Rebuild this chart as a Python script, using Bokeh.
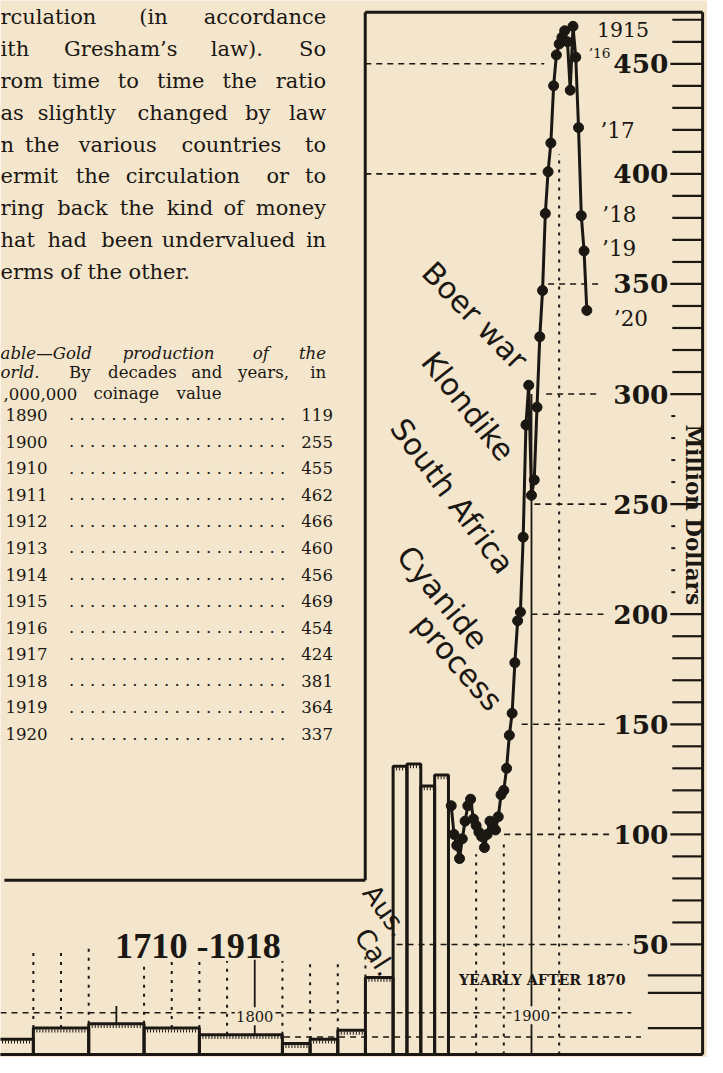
import math
from bokeh.plotting import figure
from bokeh.models import Range1d
from bokeh.core.properties import value
from bokeh.embed import file_html
from bokeh.resources import INLINE

# ---------------- data ----------------
# average yearly production by period, million dollars (step bars)
period_start = [1700, 1720, 1740, 1760, 1780, 1810, 1820, 1830, 1840, 1850, 1855, 1860, 1865]
period_end = [1720, 1740, 1760, 1780, 1810, 1820, 1830, 1840, 1850, 1855, 1860, 1865, 1870]
period_value = [7, 12, 14, 12, 9, 5, 7, 11, 35, 131, 132, 122, 127]

# yearly production after 1870, million dollars
years = list(range(1871, 1921))
yearly_value = [113, 100, 95, 89, 98, 106, 113, 116, 107, 104,
                101, 99, 94, 100, 106, 104, 102, 108, 118, 120,
                130, 145, 155, 178, 197, 201, 235, 286, 304, 254,
                261, 294, 326, 347, 382, 401, 414, 440, 454, 459,
                462, 465, 460, 438, 467, 453, 421, 381, 365, 338]

# table printed beside the chart
table_years = [1890, 1900, 1910, 1911, 1912, 1913, 1914, 1915, 1916, 1917, 1918, 1919, 1920]
table_values = [119, 255, 455, 462, 466, 460, 456, 469, 454, 424, 381, 364, 337]

# right-hand scale
axis_label_values = [50, 100, 150, 200, 250, 300, 350, 400, 450]
axis_minor_values = [60, 70, 80, 90, 110, 120, 130, 140, 160, 170, 180, 190,
                     310, 320, 330, 340, 360, 370, 380, 390, 410, 420, 430, 440, 460, 470]
axis_hidden_values = [210, 220, 230, 240, 260, 270, 280, 290]
axis_low_values = [12, 28, 36]

point_label_years = [1915, 1916, 1917, 1918, 1919, 1920]
point_label_texts = ["1915", "\u201916", "\u201917", "\u201918", "\u201919", "\u201920"]

event_texts = ["Boer war", "Klondike", "South Africa", "Cyanide", "process", "Aus.", "Cal."]

paragraph_lines = [
    ["rculation", "(in", "accordance"],
    ["ith", "Gresham\u2019s", "law).", "So"],
    ["rom", "time", "to", "time", "the", "ratio"],
    ["as", "slightly", "changed", "by", "law"],
    ["n", "the", "various", "countries", "to"],
    ["ermit", "the", "circulation", "or", "to"],
    ["ring", "back", "the", "kind", "of", "money"],
    ["hat", "had", "been", "undervalued", "in"],
]
paragraph_last = "erms of the other."

# ---------------- layout / style ----------------
PAPER = "#f3e6cc"
INK = "#1b1713"
SERIF = "DejaVu Serif"
SANS = "DejaVu Sans"
W, H = 707, 1057
REF_W, REF_H = 723, 1073
S = W / REF_W


def X(px):
    return 1800 + (px - 260) / 2.83


def V(py):
    return (1070 - py) / 2.235


def fs(px):
    return "%.1fpx" % (px * S)


p = figure(width=W, height=H, x_range=Range1d(X(0), X(REF_W)), y_range=Range1d(V(REF_H), V(0)),
           output_backend="svg", toolbar_location=None, min_border=0,
           x_axis_type=None, y_axis_type=None)
p.outline_line_color = None
p.background_fill_color = PAPER
p.border_fill_color = PAPER


def txt(px, py, s, size, font=SERIF, style="normal", align="left", baseline="alphabetic", angle=0.0):
    p.text(x=[X(px)], y=[V(py)], text=[s], text_font=value(font), text_font_size=fs(size),
           text_font_style=style, text_align=align, text_baseline=baseline, angle=angle,
           text_color=INK)


# ---------- book text (upper left) ----------
para_x = [
    [0, 142, None], [0, 65, 215, None], [0, 53, 120, 160, 227, None], [0, 38, 140, 250, None],
    [0, 25, 80, 185, None], [0, 77, 128, 272, None], [0, 58, 122, 170, 228, None], [0, 48, 103, 165, None],
]
for i, words in enumerate(paragraph_lines):
    base = 17 + i * 32.3
    for w, xpos in zip(words, para_x[i]):
        if xpos is None:
            txt(333, base, w, 21.5, align="right")
        else:
            txt(xpos, base, w, 21.5)
txt(0, 17 + 8 * 32.3, paragraph_last, 21.5)

# table caption
cap1 = [("able\u2014Gold", 0), ("production", 125), ("of", 258)]
for w, xpos in cap1:
    txt(xpos, 358, w, 17, style="italic")
txt(333, 358, "the", 17, style="italic", align="right")
txt(0, 378, "orld.", 17, style="italic")
for w, xpos in [("By", 70), ("decades", 110), ("and", 195), ("years,", 243)]:
    txt(xpos, 378, w, 17)
txt(333, 378, "in", 17, align="right")
for w, xpos in [(",000,000", 3), ("coinage", 95), ("value", 180)]:
    txt(xpos, 399, w, 17)

leader = " ".join(["."] * 21)
for i, (yr, val) in enumerate(zip(table_years, table_values)):
    base = 420.7 + i * 27.0
    txt(5, base, str(yr), 17)
    txt(70, base, leader, 17)
    txt(340, base, str(val), 17, align="right")

# ---------- frame ----------
p.segment(x0=[X(373), X(718), X(373), X(4), X(0)],
          y0=[V(12), V(12), V(12), V(893), 0],
          x1=[X(718), X(718), X(373), X(373), X(718)],
          y1=[V(12), V(1070), V(893), V(893), 0],
          line_color=INK, line_width=3)

# ---------- grid: dashed horizontals ----------
grid_span = {450: (373, 556), 400: (373, 553), 350: (560, 612), 300: (558, 614), 250: (546, 620),
             200: (543, 620), 150: (533, 620), 100: (515, 625), 50: (405, 643)}
gx0 = [X(grid_span[v][0]) for v in axis_label_values]
gx1 = [X(grid_span[v][1]) for v in axis_label_values]
p.segment(x0=gx0, x1=gx1, y0=axis_label_values, y1=axis_label_values,
          line_color=INK, line_width=1.6, line_dash="6 5")
p.segment(x0=[X(0), X(290)], x1=[X(645), X(655)], y0=[19, 8], y1=[19, 8],
          line_color=INK, line_width=1.6, line_dash="6 5")


def bar_top_at(yr):
    return max(v for s0, s1, v in zip(period_start, period_end, period_value) if s0 <= yr <= s1)


# dotted decade verticals
high = [1720, 1730, 1740, 1840]
low = [1760, 1770, 1780, 1790, 1810, 1820, 1830]
dx = high + low + [1880, 1890, 1910]
dy0 = [bar_top_at(d) for d in high + low] + [0, 0, 0]
dy1 = [48] * len(high) + [42.5] * len(low) + [91, 98, 409]
p.segment(x0=dx, x1=dx, y0=dy0, y1=dy1, line_color=INK, line_width=2, line_dash="3 6")
# solid half-century / century marks
p.segment(x0=[1750, 1800, 1900], x1=[1750, 1800, 1900],
          y0=[bar_top_at(1750), bar_top_at(1800), 0], y1=[22, 43, 300],
          line_color=INK, line_width=1.8)

# ---------- right scale ----------
p.segment(x0=[X(687)] * len(axis_minor_values), x1=[X(718)] * len(axis_minor_values),
          y0=axis_minor_values, y1=axis_minor_values, line_color=INK, line_width=2.2)
p.segment(x0=[X(685)] * len(axis_label_values), x1=[X(718)] * len(axis_label_values),
          y0=axis_label_values, y1=axis_label_values, line_color=INK, line_width=2.2)
p.segment(x0=[X(662)] * len(axis_low_values), x1=[X(718)] * len(axis_low_values),
          y0=axis_low_values, y1=axis_low_values, line_color=INK, line_width=2.2)
p.segment(x0=[X(686)] * len(axis_hidden_values), x1=[X(690)] * len(axis_hidden_values),
          y0=axis_hidden_values, y1=axis_hidden_values, line_color=INK, line_width=2)
p.text(x=[X(683)] * len(axis_label_values), y=axis_label_values, text=[str(v) for v in axis_label_values],
       text_font=value(SERIF), text_font_size=fs(27), text_font_style="bold",
       text_align="right", text_baseline="middle", text_color=INK)
txt(709, 522, "Million Dollars", 22, style="bold", align="center", baseline="middle", angle=-math.pi / 2)

# ---------- period bars ----------
p.quad(left=period_start, right=period_end, bottom=0, top=period_value,
       fill_color=None, line_color=INK, line_width=3)
hatch_y = [v - 1.3 for v in period_value]
p.segment(x0=period_start, x1=period_end, y0=hatch_y, y1=hatch_y,
          line_color=INK, line_width=3, line_dash="1 2")

# ---------- yearly line ----------
p.line(years, yearly_value, line_color=INK, line_width=3)
p.scatter(years, yearly_value, size=10, fill_color=INK, line_color=INK)

# point labels
lab_dx = [24, 13, 22, 21, 18, 27]
lab_dy = [3, -4, 3, -1, -2, 8]
lab_size = [21, 14, 22, 22, 22, 22]
for yr, t, ox, oy, sz in zip(point_label_years, point_label_texts, lab_dx, lab_dy, lab_size):
    p.text(x=[yr], y=[yearly_value[years.index(yr)]], text=[t], x_offset=ox, y_offset=oy,
           text_font=value(SERIF), text_font_size=fs(sz), text_align="left", text_baseline="middle",
           text_color=INK)

# ---------- event annotations ----------
ev_pos = [(485, 320, 31, -0.80), (478, 412, 31, -0.90), (462, 503, 31, -0.93),
          (452, 606, 31, -0.88), (468, 672, 31, -0.85), (394, 924, 27, -0.95), (383, 966, 27, -1.0)]
for t, (cx, cy, sz, ang) in zip(event_texts, ev_pos):
    txt(cx, cy, t, sz, font=SANS, align="center", baseline="middle", angle=ang)

# titles
txt(202, 960, "1710 -1918", 37, font="Liberation Serif", style="bold", align="center", baseline="middle")
txt(554, 994, "YEARLY AFTER 1870", 14.5, style="bold", align="center", baseline="middle")

# century labels on a paper patch
p.rect(x=[1800, 1900], y=[V(1031), V(1030)], width=40, height=18, width_units="screen", height_units="screen",
       fill_color=PAPER, line_color=None)
p.text(x=[1800, 1900], y=[V(1031), V(1030)], text=["1800", "1900"], text_font=value(SERIF),
       text_font_size=fs(15), text_align="center", text_baseline="middle", text_color=INK)

open("out.html", "w").write(file_html(p, INLINE))
